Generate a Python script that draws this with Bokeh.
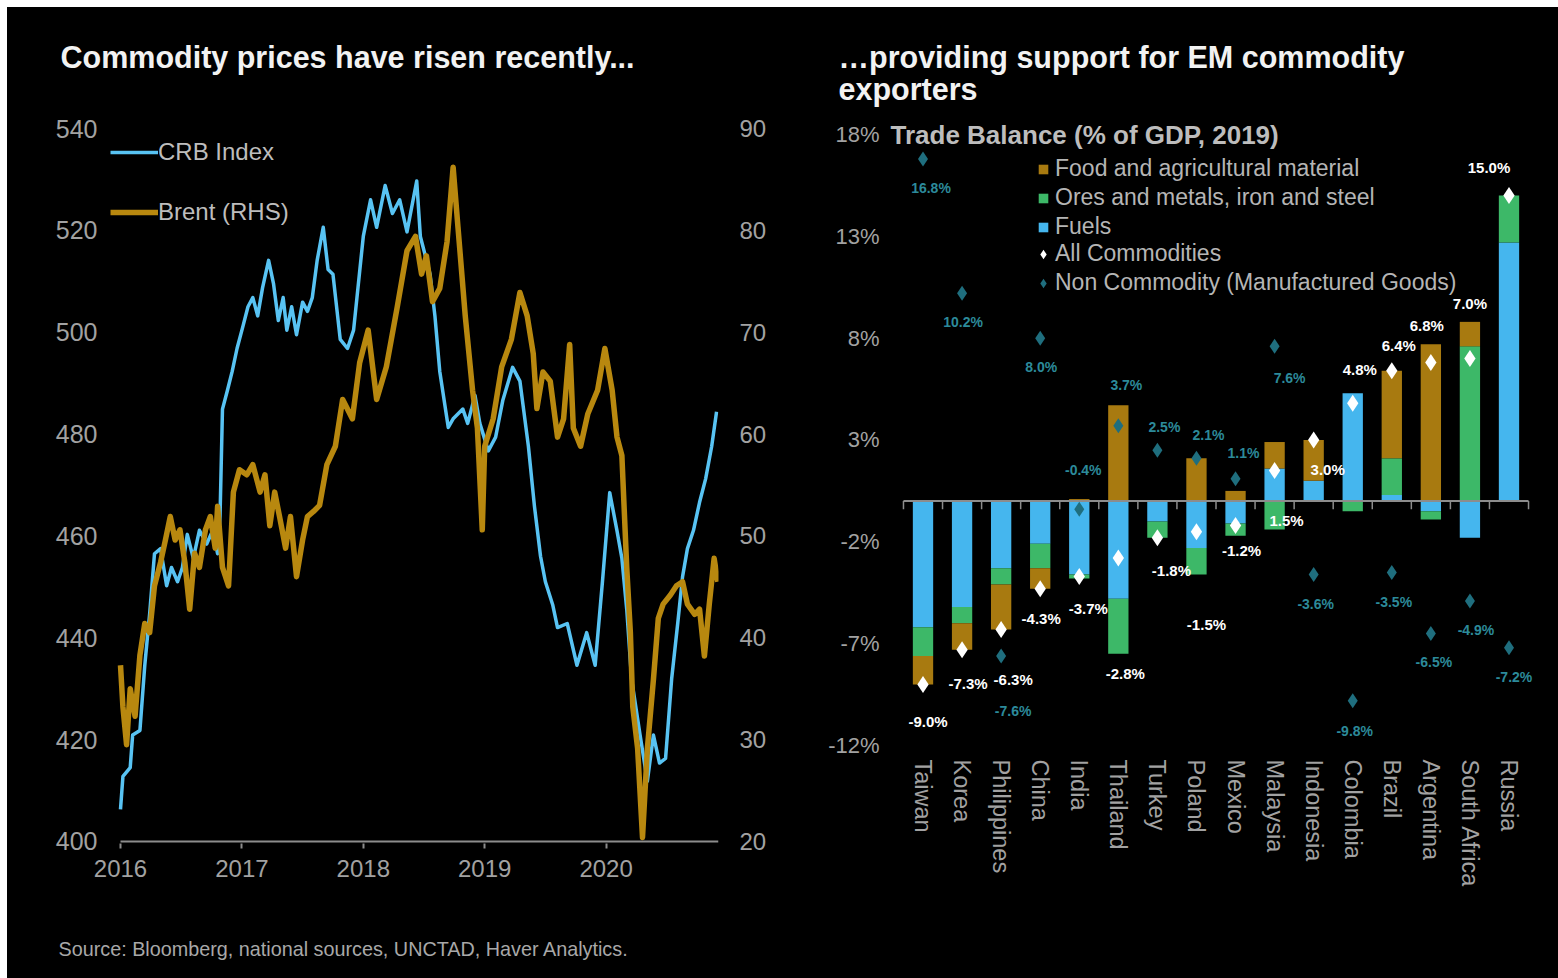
import numpy as np
from bokeh.plotting import figure
from bokeh.models import (Range1d, LinearAxis, FixedTicker, Legend, LegendItem, Label,
                          ColumnDataSource, PrintfTickFormatter, FactorRange, Spacer)
from bokeh.layouts import row, column
from bokeh.transform import dodge
from bokeh.core.properties import value
from bokeh.embed import file_html
from bokeh.resources import INLINE

# ---------------- Left chart data ----------------
crb_dates = [2016.00, 2016.02, 2016.08, 2016.10, 2016.16, 2016.20, 2016.24, 2016.28, 2016.33, 2016.38,
             2016.42, 2016.47, 2016.51, 2016.55, 2016.60, 2016.65, 2016.71, 2016.76, 2016.80, 2016.82,
             2016.84, 2016.88, 2016.92, 2016.96, 2017.01, 2017.05, 2017.09, 2017.13, 2017.17, 2017.22,
             2017.26, 2017.30, 2017.34, 2017.37, 2017.41, 2017.45, 2017.50, 2017.54, 2017.58, 2017.62,
             2017.67, 2017.71, 2017.75, 2017.81, 2017.87, 2017.92, 2018.00, 2018.06, 2018.11, 2018.18,
             2018.24, 2018.30, 2018.36, 2018.44, 2018.47, 2018.55, 2018.59, 2018.63, 2018.70, 2018.74,
             2018.82, 2018.86, 2018.92, 2018.96, 2019.03, 2019.09, 2019.15, 2019.23, 2019.29, 2019.36,
             2019.41, 2019.46, 2019.50, 2019.56, 2019.60, 2019.68, 2019.76, 2019.84, 2019.91, 2019.97,
             2020.03, 2020.09, 2020.13, 2020.17, 2020.21, 2020.28, 2020.34, 2020.39, 2020.44, 2020.49,
             2020.54, 2020.59, 2020.63, 2020.67, 2020.72, 2020.77, 2020.82, 2020.87, 2020.91]
crb_values = [406.3, 412.8, 414.5, 420.9, 421.8, 434.6, 444.7, 456.5, 457.5, 450.2,
              453.8, 451.0, 453.8, 460.3, 455.6, 461.1, 458.4, 461.1, 456.5, 463.9,
              484.9, 488.5, 492.3, 496.8, 501.3, 505.0, 506.8, 503.2, 508.7, 514.1,
              509.6, 502.3, 506.8, 500.4, 505.0, 499.5, 505.9, 504.1, 506.8, 514.1,
              520.6, 512.3, 511.4, 498.6, 496.8, 500.4, 518.8, 526.0, 520.6, 528.8,
              523.3, 526.0, 519.7, 529.7, 518.8, 511.4, 503.2, 492.3, 481.3, 483.0,
              484.9, 482.1, 487.6, 482.1, 476.7, 479.4, 486.7, 493.1, 490.4, 477.6,
              465.8, 456.0, 451.0, 446.5, 442.0, 442.8, 434.6, 441.0, 434.6, 451.0,
              468.5, 461.0, 455.6, 445.6, 431.9, 420.9, 411.8, 420.9, 415.4, 416.3,
              431.9, 442.8, 452.0, 457.5, 461.1, 466.6, 471.2, 477.6, 484.4]

brent_dates = [2016.00, 2016.02, 2016.05, 2016.08, 2016.12, 2016.16, 2016.20, 2016.24, 2016.28, 2016.33,
               2016.37, 2016.41, 2016.45, 2016.49, 2016.53, 2016.57, 2016.61, 2016.65, 2016.70, 2016.74,
               2016.78, 2016.80, 2016.84, 2016.89, 2016.93, 2016.98, 2017.04, 2017.09, 2017.15, 2017.19,
               2017.23, 2017.27, 2017.31, 2017.36, 2017.40, 2017.45, 2017.50, 2017.54, 2017.59, 2017.64,
               2017.70, 2017.77, 2017.83, 2017.91, 2017.97, 2018.04, 2018.11, 2018.19, 2018.28, 2018.36,
               2018.43, 2018.48, 2018.52, 2018.57, 2018.63, 2018.69, 2018.74, 2018.78, 2018.84, 2018.90,
               2018.94, 2018.98, 2019.00, 2019.07, 2019.14, 2019.22, 2019.29, 2019.35, 2019.40, 2019.43,
               2019.48, 2019.54, 2019.60, 2019.65, 2019.70, 2019.73, 2019.79, 2019.85, 2019.93, 2019.99,
               2020.05, 2020.09, 2020.13, 2020.17, 2020.20, 2020.22, 2020.26, 2020.30, 2020.34, 2020.39,
               2020.43, 2020.47, 2020.53, 2020.58, 2020.63, 2020.67, 2020.73, 2020.77, 2020.81, 2020.85,
               2020.89, 2020.92]
brent_values = [37.3, 33.2, 29.5, 35.0, 32.3, 38.3, 41.4, 40.5, 45.1, 47.4,
                49.6, 51.9, 49.6, 50.6, 47.4, 42.8, 48.3, 46.9, 50.6, 51.9,
                48.8, 52.9, 46.9, 45.1, 54.3, 56.5, 56.0, 57.0, 54.3, 56.0,
                51.0, 54.3, 51.9, 48.8, 51.9, 46.0, 49.6, 51.9, 52.4, 53.0,
                57.0, 58.8, 63.4, 61.5, 67.0, 70.2, 63.4, 66.6, 72.5, 78.0,
                79.4, 75.7, 77.5, 73.0, 74.3, 78.9, 86.2, 80.3, 71.6, 64.3,
                60.6, 50.6, 58.8, 61.5, 66.6, 69.3, 73.9, 71.6, 67.9, 62.5,
                66.1, 65.2, 59.7, 61.5, 68.8, 60.6, 58.8, 62.0, 64.3, 68.4,
                64.3, 59.7, 57.9, 46.9, 40.5, 33.2, 29.1, 20.4, 29.1, 35.9,
                41.9, 43.3, 44.2, 45.1, 45.5, 43.3, 42.3, 42.8, 38.2, 43.3,
                47.8, 45.5]

year_ticks = [2016, 2017, 2018, 2019, 2020]
crb_ticks = [400, 420, 440, 460, 480, 500, 520, 540]
brent_ticks = [20, 30, 40, 50, 60, 70, 80, 90]
x_start, x_end = 2016.0, 2020.926

# ---------------- Right chart data ----------------
countries = ["Taiwan", "Korea", "Philippines", "China", "India", "Thailand", "Turkey", "Poland",
             "Mexico", "Malaysia", "Indonesia", "Colombia", "Brazil", "Argentina", "South Africa", "Russia"]
fuels = [-6.2, -5.2, -3.3, -2.1, -3.6, -4.8, -1.0, -2.3, -1.1, 1.6, 1.0, 5.3, 0.3, -0.5, -1.8, 12.7]
ores = [-1.4, -0.8, -0.8, -1.2, -0.2, -2.7, -0.8, -1.3, -0.6, -1.4, 0.0, -0.5, 1.8, -0.4, 7.6, 2.3]
food = [-1.4, -1.3, -2.2, -1.0, 0.1, 4.7, 0.0, 2.1, 0.5, 1.3, 2.0, 0.0, 4.3, 7.7, 1.2, 0.0]
all_commodities = [-9.0, -7.3, -6.3, -4.3, -3.7, -2.8, -1.8, -1.5, -1.2, 1.5, 3.0, 4.8, 6.4, 6.8, 7.0, 15.0]
non_commodity = [16.8, 10.2, -7.6, 8.0, -0.4, 3.7, 2.5, 2.1, 1.1, 7.6, -3.6, -9.8, -3.5, -6.5, -4.9, -7.2]
pct_ticks = [-12, -7, -2, 3, 8, 13, 18]

# label placement (screen pixel offsets from each marker; style only)
all_dx = [5, 6, 12, 1, 9, 7, 14, 10, 6, 12, 14, 7, 7, -4, 0, -20]
all_dy = [37, 34, 50, 30, 32, 115, 33, 93, 25, 50, 30, -34, -25, -37, -55, -28]
non_dx = [8, 1, 12, 1, 4, 8, 7, 12, 8, 15, 2, 2, 2, 3, 6, 5]
non_dy = [29, 29, 55, 29, -39, -41, -23, -23, -26, 32, 30, 30, 30, 29, 29, 29]

# ---------------- styling ----------------
FONT = "Liberation Sans"
BG = "#000000"
GREY = "#A2A2A2"
CRB_COLOR = "#58C3F3"
BRENT_COLOR = "#B8880F"
FOOD_COLOR = "#A87A10"
ORES_COLOR = "#3DB868"
FUELS_COLOR = "#45B6EE"
TEAL = "#1F6E7E"
TEAL_TEXT = "#2C8A9A"
AXIS_GREY = "#8C8C8C"


def no_align(fig):
    if hasattr(fig, "frame_align"):
        fig.frame_align = False


# ================= Header / footer (text only) =================
header = figure(width=1551, height=107, output_backend="svg", toolbar_location=None,
                x_range=Range1d(0, 1551), y_range=Range1d(0, 107),
                x_axis_type=None, y_axis_type=None,
                background_fill_color=BG, border_fill_color=BG,
                min_border=0, min_border_left=0, min_border_right=0, min_border_top=0, min_border_bottom=0)
header.outline_line_color = None
header.grid.visible = False
no_align(header)
for x, y, txt in [(53, 58, "Commodity prices have risen recently..."),
                  (831, 58, "\u2026providing support for EM commodity"),
                  (831, 26, "exporters")]:
    header.add_layout(Label(x=x, y=y, x_units="screen", y_units="screen", text=txt,
                            text_font=FONT, text_font_style="bold", text_font_size="30.5px",
                            text_color="#F2F2F2", text_baseline="middle"))

footer = figure(width=1551, height=66, output_backend="svg", toolbar_location=None,
                x_range=Range1d(0, 1551), y_range=Range1d(0, 66),
                x_axis_type=None, y_axis_type=None,
                background_fill_color=BG, border_fill_color=BG,
                min_border=0, min_border_left=0, min_border_right=0, min_border_top=0, min_border_bottom=0)
footer.outline_line_color = None
footer.grid.visible = False
no_align(footer)
footer.add_layout(Label(x=51, y=30, x_units="screen", y_units="screen",
                        text="Source: Bloomberg, national sources, UNCTAD, Haver Analytics.",
                        text_font=FONT, text_font_size="19.8px", text_color="#A8A8A8",
                        text_baseline="middle"))

# ================= Left figure =================
# frame: page x 108..718, y 128..843 (400 sits at 841)
p1 = figure(width=793, height=798, output_backend="svg", toolbar_location=None,
            x_range=Range1d(x_start - 12 / 121.4, x_end), y_range=Range1d(399.6, 540),
            background_fill_color=BG, border_fill_color=BG,
            min_border_left=101, min_border_right=82, min_border_top=14, min_border_bottom=69)
p1.outline_line_color = None
p1.grid.visible = False
no_align(p1)
p1.extra_y_ranges = {"brent": Range1d(19.8, 90)}

# x axis baseline from 2016 to end
p1.segment(x0=[x_start], y0=[crb_ticks[0]], x1=[x_end], y1=[crb_ticks[0]],
           line_color=AXIS_GREY, line_width=2)

crb_r = p1.line(crb_dates, crb_values, line_color=CRB_COLOR, line_width=3.5, line_join="round")
brent_r = p1.line(brent_dates, brent_values, line_color=BRENT_COLOR, line_width=5.5, line_join="round",
                  y_range_name="brent")

p1.add_layout(LinearAxis(y_range_name="brent", ticker=FixedTicker(ticks=brent_ticks)), "right")

for ax in p1.yaxis:
    ax.axis_line_color = None
    ax.major_tick_line_color = None
    ax.minor_tick_line_color = None
    ax.major_label_text_color = GREY
    ax.major_label_text_font = FONT
p1.yaxis[0].ticker = FixedTicker(ticks=crb_ticks)
p1.yaxis[0].major_label_text_font_size = "25px"
p1.yaxis[0].major_label_standoff = 5
p1.yaxis[1].major_label_text_font_size = "24px"
p1.yaxis[1].major_label_standoff = 15

xa = p1.xaxis[0]
xa.ticker = FixedTicker(ticks=year_ticks)
xa.axis_line_color = None
xa.major_tick_line_color = AXIS_GREY
xa.major_tick_line_width = 2
xa.major_tick_in = 0
xa.major_tick_out = 5
xa.minor_tick_line_color = None
xa.major_label_text_color = GREY
xa.major_label_text_font = FONT
xa.major_label_text_font_size = "24px"
xa.major_label_standoff = 11

leg1 = Legend(items=[LegendItem(label="CRB Index", renderers=[crb_r]),
                     LegendItem(label="Brent (RHS)", renderers=[brent_r])],
              location=(2, 617), glyph_width=48, glyph_height=28, label_height=28,
              spacing=32, padding=0, margin=0, label_standoff=0,
              background_fill_alpha=0, border_line_alpha=0,
              label_text_color="#BDBDBD", label_text_font=FONT, label_text_font_size="24px")
p1.add_layout(leg1)

# ================= Right figure =================
# frame: page x 885..1546, y 118..745
p2 = figure(width=758, height=798, output_backend="svg", toolbar_location=None,
            x_range=FactorRange(factors=countries, range_padding=0.46, range_padding_units="absolute"),
            y_range=Range1d(-12, 18.785),
            background_fill_color=BG, border_fill_color=BG,
            min_border_left=85, min_border_right=12, min_border_top=4, min_border_bottom=167)
p2.outline_line_color = None
p2.grid.visible = False
no_align(p2)

n = len(countries)
pos_base = np.zeros(n)
neg_base = np.zeros(n)
bar_renderers = {}
for name, vals, color in [("fuels", fuels, FUELS_COLOR), ("ores", ores, ORES_COLOR), ("food", food, FOOD_COLOR)]:
    v = np.array(vals, dtype=float)
    pos = np.clip(v, 0, None)
    neg = np.clip(v, None, 0)
    r1 = p2.vbar(x=countries, bottom=pos_base.copy(), top=pos_base + pos, width=0.52,
                 fill_color=color, line_color=None)
    p2.vbar(x=countries, bottom=neg_base.copy(), top=neg_base + neg, width=0.52,
            fill_color=color, line_color=None)
    pos_base = pos_base + pos
    neg_base = neg_base + neg
    bar_renderers[name] = r1

# zero line from first to last category edge, with ticks between categories
zsrc = ColumnDataSource(dict(c0=[countries[0]], c1=[countries[-1]], y=[0]))
p2.segment(x0=dodge("c0", -0.5, range=p2.x_range), y0="y",
           x1=dodge("c1", 0.5, range=p2.x_range), y1="y",
           source=zsrc, line_color=AXIS_GREY, line_width=2)
tick_src = ColumnDataSource(dict(c=countries, y0=[0] * n, y1=[-0.4] * n))
p2.segment(x0=dodge("c", -0.5, range=p2.x_range), y0="y0",
           x1=dodge("c", -0.5, range=p2.x_range), y1="y1",
           source=tick_src, line_color=AXIS_GREY, line_width=1.5)
p2.segment(x0=dodge("c", 0.5, range=p2.x_range), y0="y0",
           x1=dodge("c", 0.5, range=p2.x_range), y1="y1",
           source=ColumnDataSource(dict(c=[countries[-1]], y0=[0], y1=[-0.4])),
           line_color=AXIS_GREY, line_width=1.5)

src = ColumnDataSource(dict(
    c=countries, allc=all_commodities, nonc=non_commodity,
    allc_lbl=[f"{v:.1f}%" for v in all_commodities],
    nonc_lbl=[f"{v:.1f}%" for v in non_commodity],
    adx=all_dx, ady=all_dy, ndx=non_dx, ndy=non_dy))

teal_r = p2.scatter(x="c", y="nonc", source=src, marker="diamond", size=15,
                    fill_color=TEAL, line_color=None)
white_r = p2.scatter(x="c", y="allc", source=src, marker="diamond", size=17,
                     fill_color="white", line_color=None)

p2.text(x="c", y="nonc", text="nonc_lbl", source=src, x_offset="ndx", y_offset="ndy",
        text_font=value(FONT), text_font_style="bold", text_font_size="14px",
        text_color=TEAL_TEXT, text_align="center", text_baseline="middle")
p2.text(x="c", y="allc", text="allc_lbl", source=src, x_offset="adx", y_offset="ady",
        text_font=value(FONT), text_font_style="bold", text_font_size="15px",
        text_color="#FFFFFF", text_align="center", text_baseline="middle")

ya = p2.yaxis[0]
ya.ticker = FixedTicker(ticks=pct_ticks)
ya.formatter = PrintfTickFormatter(format="%d%%")
ya.axis_line_color = None
ya.major_tick_line_color = None
ya.minor_tick_line_color = None
ya.major_label_text_color = GREY
ya.major_label_text_font = FONT
ya.major_label_text_font_size = "22px"
ya.major_label_standoff = 0

xb = p2.xaxis[0]
xb.axis_line_color = None
xb.major_tick_line_color = None
xb.major_label_orientation = "vertical"
xb.major_label_text_color = GREY
xb.major_label_text_font = FONT
xb.major_label_text_font_size = "23.5px"
xb.major_label_standoff = 8

legA = Legend(items=[LegendItem(label="Food and agricultural material", renderers=[bar_renderers["food"]]),
                     LegendItem(label="Ores and metals, iron and steel", renderers=[bar_renderers["ores"]]),
                     LegendItem(label="Fuels", renderers=[bar_renderers["fuels"]])],
              location=(152, 505), glyph_width=12, glyph_height=12, label_height=26,
              spacing=2, padding=0, margin=0, label_standoff=6,
              background_fill_alpha=0, border_line_alpha=0,
              label_text_color="#B5B5B5", label_text_font=FONT, label_text_font_size="23px")
legB = Legend(items=[LegendItem(label="All Commodities", renderers=[white_r]),
                     LegendItem(label="Non Commodity (Manufactured Goods)", renderers=[teal_r])],
              location=(146, 449), glyph_width=24, glyph_height=24, label_height=26,
              spacing=2, padding=0, margin=0, label_standoff=0,
              background_fill_alpha=0, border_line_alpha=0,
              label_text_color="#B5B5B5", label_text_font=FONT, label_text_font_size="23px")
p2.add_layout(legA)
p2.add_layout(legB)

p2.add_layout(Label(x=5, y=611, x_units="screen", y_units="screen",
                    text="Trade Balance (% of GDP, 2019)", text_font=FONT,
                    text_font_style="bold", text_font_size="26px", text_color="#BDBDBD",
                    text_baseline="middle"))

WHITE = {"background-color": "#ffffff"}
inner = column(header, row(column(p1), column(p2)), footer)
layout = column(Spacer(width=1558, height=7, styles=WHITE),
                row(Spacer(width=7, height=971, styles=WHITE), inner),
                styles={"background-color": "#000000"})
open("out.html", "w").write(file_html(layout, INLINE))
